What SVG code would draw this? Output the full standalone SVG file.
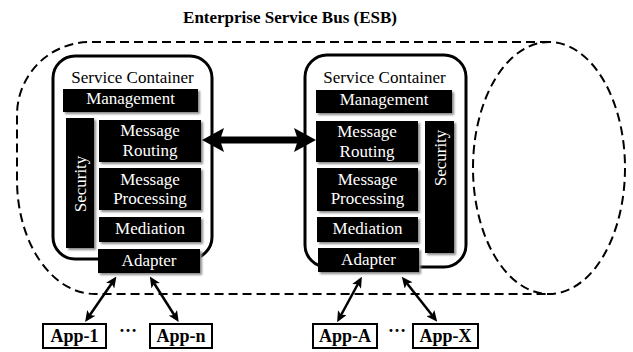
<svg xmlns="http://www.w3.org/2000/svg" width="633" height="352" viewBox="0 0 633 352">
<defs>
<style>
.bus{fill:none;stroke:#000;stroke-width:2;stroke-dasharray:9 5}
.cont{fill:none;stroke:#000;stroke-width:3}
.blk{fill:#000;filter:url(#sh)}
.wt{fill:#fff;font-family:"Liberation Serif","Times New Roman",serif;font-size:17px;text-anchor:middle}
.bt{fill:#000;font-family:"Liberation Serif","Times New Roman",serif;font-size:17px;text-anchor:middle}
.app{fill:#fff;stroke:#000;stroke-width:2}
.apt{fill:#000;font-family:"Liberation Serif","Times New Roman",serif;font-size:18px;font-weight:bold;text-anchor:middle}
.thin{stroke:#000;stroke-width:2.5;fill:none;marker-start:url(#ah);marker-end:url(#ah)}
.thick{stroke:#000;stroke-width:7;fill:none;marker-start:url(#bh);marker-end:url(#bh)}
</style>
<filter id="sh" x="-10%" y="-10%" width="130%" height="130%">
<feDropShadow dx="2" dy="2" stdDeviation="1" flood-color="#8a8a8a"/>
</filter>
<marker id="ah" viewBox="0 0 11 10" refX="5" refY="5" markerWidth="11" markerHeight="10" orient="auto-start-reverse" markerUnits="userSpaceOnUse">
<path d="M0,0 L11,5 L0,10 L2.5,5 z" fill="#000"/>
</marker>
<marker id="bh" viewBox="0 0 22 24" refX="10" refY="12" markerWidth="22" markerHeight="24" orient="auto-start-reverse" markerUnits="userSpaceOnUse">
<path d="M0,0 L22,12 L0,24 L4,12 z" fill="#000"/>
</marker>
</defs>
<rect width="633" height="352" fill="#fff"/>
<text x="290" y="23" class="bt" style="font-weight:bold">Enterprise Service Bus (ESB)</text>
<g id="esb">
<path class="bus" d="M549,42 L90,42 A73,73 0 0 0 17,115 L17,180 A78,114 0 0 0 95,294 L549,294"/>
<ellipse class="bus" cx="549" cy="168" rx="76" ry="126"/>
</g>
<g id="container-left">
<rect class="cont" x="53" y="56" width="159" height="203" rx="22"/>
<text x="132.5" y="83" class="bt">Service Container</text>
</g>
<g id="management-left"><rect class="blk" x="63" y="89" width="135" height="23"/><text x="130.5" y="104" class="wt">Management</text></g>
<g id="security-left"><rect class="blk" x="66" y="118" width="28" height="130"/><text class="wt" transform="translate(80,184) rotate(-90)" y="6">Security</text></g>
<g id="routing-left"><rect class="blk" x="99" y="120" width="102" height="42"/><text x="150" y="136" class="wt">Message</text><text x="150" y="156" class="wt">Routing</text></g>
<g id="processing-left"><rect class="blk" x="99" y="168" width="102" height="42"/><text x="150" y="185" class="wt">Message</text><text x="150" y="204" class="wt">Processing</text></g>
<g id="mediation-left"><rect class="blk" x="99" y="217" width="102" height="25"/><text x="150" y="234" class="wt">Mediation</text></g>
<g id="adapter-left"><rect class="blk" x="98" y="249" width="102" height="24"/><text x="149" y="266" class="wt">Adapter</text></g>
<g id="container-right">
<rect class="cont" x="305" y="55" width="161" height="212" rx="22"/>
<text x="384.5" y="83" class="bt">Service Container</text>
</g>
<g id="management-right"><rect class="blk" x="316" y="90" width="136" height="23"/><text x="384" y="105" class="wt">Management</text></g>
<g id="routing-right"><rect class="blk" x="316" y="121" width="102" height="41"/><text x="367" y="137" class="wt">Message</text><text x="367" y="157" class="wt">Routing</text></g>
<g id="security-right"><rect class="blk" x="425" y="121" width="29" height="132"/><text class="wt" transform="translate(439.5,158) rotate(-90)" y="6">Security</text></g>
<g id="processing-right"><rect class="blk" x="317" y="168" width="101" height="43"/><text x="367.5" y="185" class="wt">Message</text><text x="367.5" y="204" class="wt">Processing</text></g>
<g id="mediation-right"><rect class="blk" x="317" y="217" width="101" height="25"/><text x="367.5" y="234" class="wt">Mediation</text></g>
<g id="adapter-right"><rect class="blk" x="318" y="248" width="101" height="24"/><text x="368.5" y="265" class="wt">Adapter</text></g>
<g id="app-1"><rect class="app" x="43" y="324" width="63" height="24"/><text x="74.5" y="342" class="apt">App-1</text></g>
<text x="128" y="332" class="apt">…</text>
<g id="app-n"><rect class="app" x="150" y="324" width="62" height="24"/><text x="181" y="342" class="apt">App-n</text></g>
<g id="app-a"><rect class="app" x="313" y="324" width="64" height="24"/><text x="345" y="342" class="apt">App-A</text></g>
<text x="397" y="332" class="apt">…</text>
<g id="app-x"><rect class="app" x="413" y="324" width="65" height="24"/><text x="445.5" y="342" class="apt">App-X</text></g>
<g id="connectors">
<line class="thick" x1="214" y1="140" x2="304" y2="140"/>
<line class="thin" x1="113" y1="281.5" x2="88.5" y2="317"/>
<line class="thin" x1="153" y1="281.5" x2="175.5" y2="317"/>
<line class="thin" x1="359" y1="282" x2="340" y2="317"/>
<line class="thin" x1="405.5" y1="281.5" x2="433.5" y2="317"/>
</g>
</svg>
